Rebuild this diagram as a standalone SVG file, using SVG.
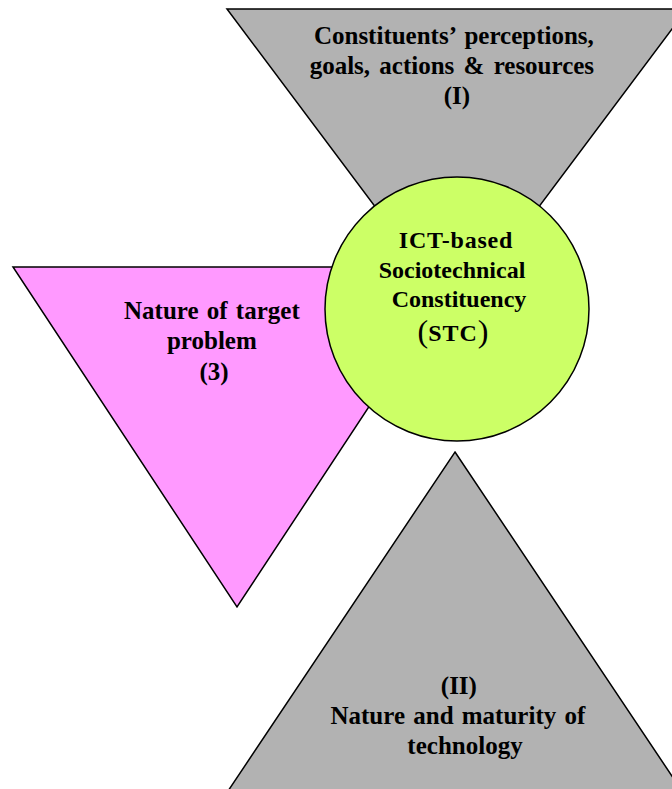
<svg xmlns="http://www.w3.org/2000/svg" width="672" height="789" viewBox="0 0 672 789">
  <style>
    .shape { stroke: #000; stroke-width: 1.5; stroke-linejoin: miter; }
    .grey { fill: #b2b2b2; }
    .pink { fill: #ff99ff; }
    .lime { fill: #ccff66; }
    .label { font-family: "Liberation Serif", "Times New Roman", serif; font-weight: bold; font-size: 25px; fill: #000; text-anchor: middle; }
    .inner { font-size: 24px; }
    .paren { font-family: "Liberation Serif", "Times New Roman", serif; font-weight: normal; font-size: 32px; fill: #000; }
  </style>
  <rect width="672" height="789" fill="#fff"/>

  <!-- (I) constituents: inverted triangle at the top -->
  <g id="constituents">
    <polygon class="shape grey" points="227,9 687,9 457,316"/>
    <text class="label">
      <tspan x="457" y="44" word-spacing="3">Constituents’ perceptions,</tspan>
      <tspan x="455" y="74" word-spacing="3">goals, actions &amp; resources</tspan>
      <tspan x="457" y="104">(I)</tspan>
    </text>
  </g>

  <!-- (3) target problem: inverted triangle on the left -->
  <g id="target-problem">
    <polygon class="shape pink" points="13,267 461,267 237,607"/>
    <text class="label">
      <tspan x="215" y="319" word-spacing="2">Nature of target</tspan>
      <tspan x="215" y="349">problem</tspan>
      <tspan x="214" y="380">(3)</tspan>
    </text>
  </g>

  <!-- (II) technology: upright triangle at the bottom -->
  <g id="technology">
    <polygon class="shape grey" points="455,452 688,800 222,800"/>
    <text class="label">
      <tspan x="462" y="694">(II)</tspan>
      <tspan x="461" y="724" word-spacing="2">Nature and maturity of</tspan>
      <tspan x="465" y="754">technology</tspan>
    </text>
  </g>

  <!-- central constituency circle -->
  <g id="stc">
    <circle class="shape lime" cx="457" cy="309" r="132"/>
    <text class="label inner">
      <tspan x="459" y="248" letter-spacing="0.8">ICT-based</tspan>
      <tspan x="455" y="278">Sociotechnical</tspan>
      <tspan x="459" y="307">Constituency</tspan>
    </text>
    <text x="453" y="341" class="label inner"><tspan class="paren" dy="1">(</tspan><tspan dy="-1" letter-spacing="1">STC</tspan><tspan class="paren" dy="1">)</tspan></text>
  </g>
</svg>
